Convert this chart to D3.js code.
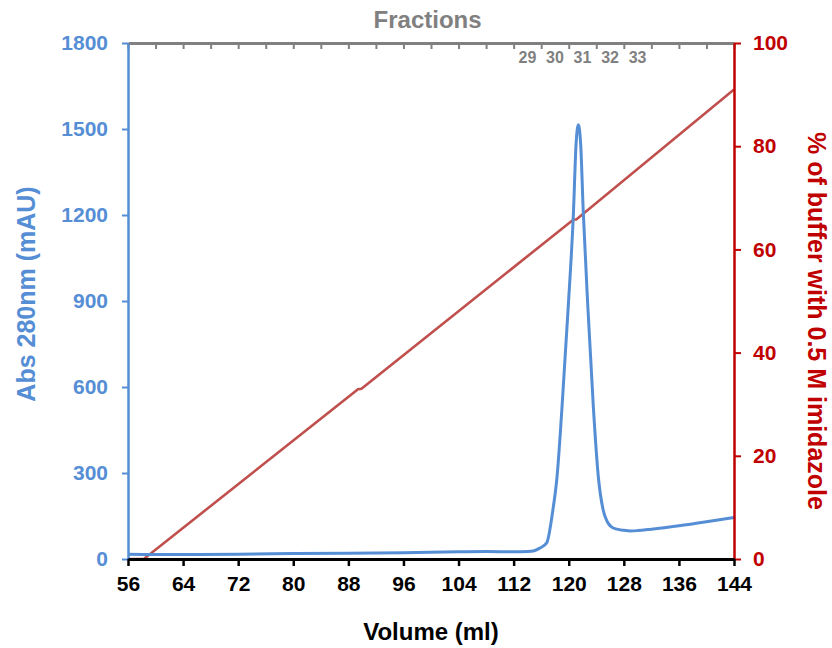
<!DOCTYPE html>
<html>
<head>
<meta charset="utf-8">
<script src="https://cdn.jsdelivr.net/npm/d3@7"></script>
<style>
  html, body { margin: 0; padding: 0; background: #fff; }
  svg { display: block; font-family: "Liberation Sans", Arial, sans-serif; font-weight: bold; }
  .axis text { font-family: "Liberation Sans", Arial, sans-serif; font-weight: bold; }
</style>
</head>
<body>
<svg id="chart" width="832" height="648"></svg>
<script>
// Elution volume (ml) and A280 trace (mAU)
const volume = [56, 60, 64, 72, 80, 88, 96, 104, 108, 112, 114, 115, 115.8, 116.8, 117.7, 118.3, 119.0, 119.9, 120.7, 121.05, 121.4, 121.75, 122.1, 122.8, 123.6, 124.3, 125.0, 125.6, 126.2, 127, 128, 129, 130, 132, 136, 140, 144];
const abs280 = [17, 16, 16, 17, 19, 20, 22, 25, 26, 25, 26, 29, 38, 56, 171, 286, 520, 869, 1217, 1440, 1515, 1440, 1217, 869, 520, 286, 171, 130, 112, 104, 100, 98, 99, 104, 116, 130, 145];

// Imidazole gradient (% of elution buffer)
const gradVolume = [56, 58.3, 89.4, 89.9, 120.7, 121.1, 144];
const gradPct = [0, 0, 32.9, 33.0, 65.8, 65.8, 91.0];

// Axis ticks
const volumeTicks = [56, 64, 72, 80, 88, 96, 104, 112, 120, 128, 136, 144];
const absTicks = [0, 300, 600, 900, 1200, 1500, 1800];
const pctTicks = [0, 20, 40, 60, 80, 100];

// Collected fractions (4 ml each): label and starting volume
const fractionLabels = [29, 30, 31, 32, 33];
const fractionStart = [112, 116, 120, 124, 128];
const fractionSize = 4;

const W = 832, H = 648;
const margin = { top: 43, right: 98, bottom: 89, left: 128 };
const iw = W - margin.left - margin.right;
const ih = H - margin.top - margin.bottom;

const blue = "#558ED5", red = "#C00000", redLine = "#C0504D", gray = "#808080";

const svg = d3.select("#chart");
const g = svg.append("g").attr("transform", `translate(${margin.left},${margin.top})`);

const x = d3.scaleLinear().domain([56, 144]).range([0, iw]);
const yL = d3.scaleLinear().domain([0, 1800]).range([ih, 0]);
const yR = d3.scaleLinear().domain([0, 100]).range([ih, 0]);

// Gradient line
const gradData = gradVolume.map((v, i) => [v, gradPct[i]]);
g.append("path")
  .datum(gradData)
  .attr("fill", "none")
  .attr("stroke", redLine)
  .attr("stroke-width", 2.6)
  .attr("d", d3.line().x(d => x(d[0])).y(d => yR(d[1])));

// A280 trace
const absData = volume.map((v, i) => [v, abs280[i]]);
g.append("path")
  .datum(absData)
  .attr("fill", "none")
  .attr("stroke", blue)
  .attr("stroke-width", 3)
  .attr("stroke-linejoin", "round")
  .attr("d", d3.line().curve(d3.curveMonotoneX).x(d => x(d[0])).y(d => yL(d[1])));

// Top fractions axis
const topAxis = g.append("g").attr("class", "axis")
  .call(d3.axisTop(x).tickValues(d3.range(56, 145, fractionSize)).tickSize(-6).tickSizeOuter(0).tickFormat(""));
topAxis.select(".domain").attr("stroke", gray).attr("stroke-width", 3);
topAxis.selectAll(".tick line").attr("stroke", gray).attr("stroke-width", 2);

g.selectAll(".frac")
  .data(fractionLabels)
  .enter().append("text")
  .attr("class", "frac")
  .attr("x", (d, i) => x(fractionStart[i] + fractionSize / 2))
  .attr("y", 20)
  .attr("text-anchor", "middle")
  .attr("fill", gray)
  .attr("font-size", 16)
  .text(d => d);

svg.append("text")
  .attr("x", margin.left + x(99.5))
  .attr("y", 28)
  .attr("text-anchor", "middle")
  .attr("fill", gray)
  .attr("font-size", 24)
  .text("Fractions");

// Left axis
const leftAxis = g.append("g").attr("class", "axis")
  .call(d3.axisLeft(yL).tickValues(absTicks).tickFormat(d3.format("d")).tickSize(6).tickSizeOuter(0).tickPadding(14));
leftAxis.select(".domain").attr("stroke", blue).attr("stroke-width", 2.5);
leftAxis.selectAll(".tick line").attr("stroke", blue).attr("stroke-width", 2);
leftAxis.selectAll(".tick text").attr("fill", blue).attr("font-size", 21);

// Right axis
const rightAxis = g.append("g").attr("class", "axis")
  .attr("transform", `translate(${iw},0)`)
  .call(d3.axisRight(yR).tickValues(pctTicks).tickFormat(d3.format("d")).tickSize(7).tickSizeOuter(0).tickPadding(12));
rightAxis.select(".domain").attr("stroke", red).attr("stroke-width", 2.5);
rightAxis.selectAll(".tick line").attr("stroke", red).attr("stroke-width", 2);
rightAxis.selectAll(".tick text").attr("fill", red).attr("font-size", 21);

// Bottom axis
const bottomAxis = g.append("g").attr("class", "axis")
  .attr("transform", `translate(0,${ih})`)
  .call(d3.axisBottom(x).tickValues(volumeTicks).tickFormat(d3.format("d")).tickSize(7).tickSizeOuter(0).tickPadding(10));
bottomAxis.select(".domain").attr("stroke", "#000").attr("stroke-width", 3);
bottomAxis.selectAll(".tick line").attr("stroke", "#000").attr("stroke-width", 2.5);
bottomAxis.selectAll(".tick text").attr("fill", "#000").attr("font-size", 21);

// Axis titles
svg.append("text")
  .attr("x", margin.left + iw / 2)
  .attr("y", 640)
  .attr("text-anchor", "middle")
  .attr("fill", "#000")
  .attr("font-size", 24)
  .text("Volume (ml)");

svg.append("text")
  .attr("transform", "translate(35,294) rotate(-90)")
  .attr("text-anchor", "middle")
  .attr("fill", blue)
  .attr("font-size", 25)
  .text("Abs 280nm (mAU)");

svg.append("text")
  .attr("transform", "translate(808,321) rotate(90)")
  .attr("text-anchor", "middle")
  .attr("fill", red)
  .attr("font-size", 25)
  .text("% of buffer with 0.5 M imidazole");
</script>
</body>
</html>
